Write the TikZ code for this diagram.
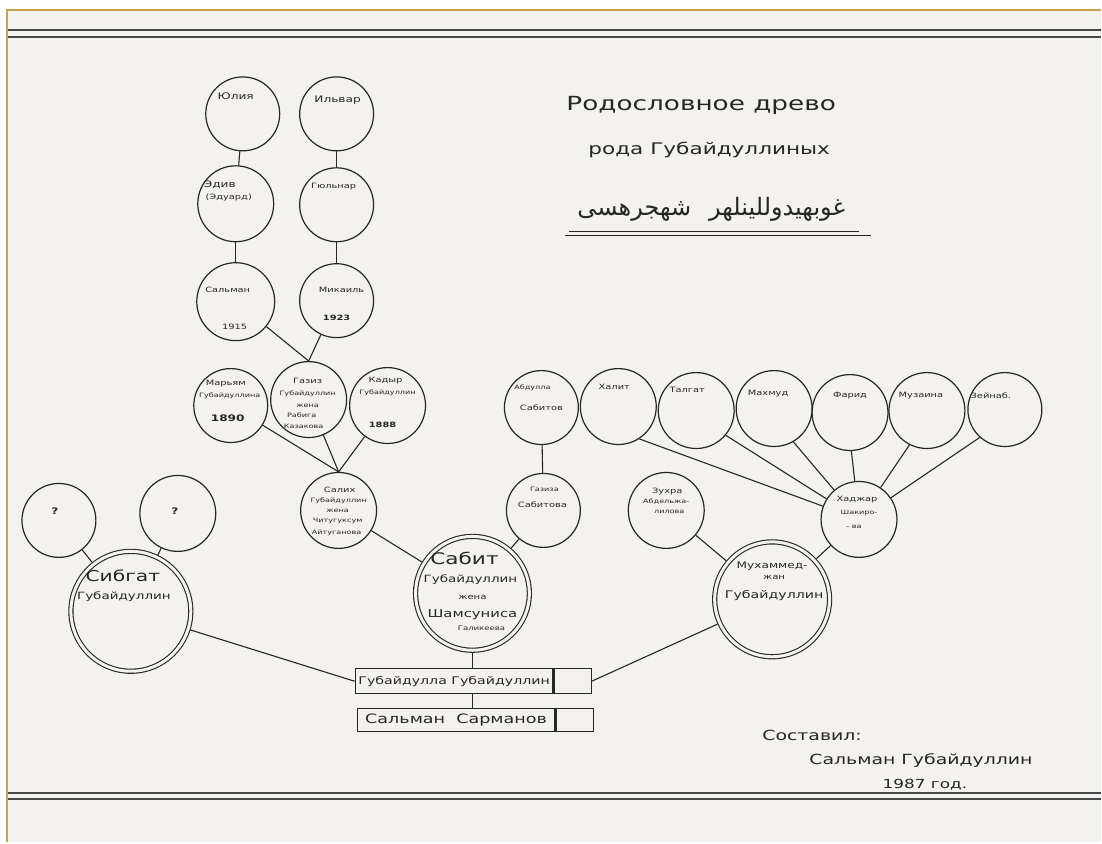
\documentclass[tikz,border=0pt]{standalone}
\usepackage{fontspec}
\setmainfont{DejaVu Sans}[FakeStretch=1.35]
\newfontfamily\arabicfont[Script=Arabic]{DejaVu Sans}
\TeXXeTstate=1
\definecolor{ink}{HTML}{262626}
\definecolor{paper}{HTML}{F4F2EE}
\definecolor{gold}{HTML}{C9A24E}
\begin{document}
\begin{tikzpicture}[x=1pt,y=-1pt,
  circ/.style={circle, draw=ink, line width=1.2pt, inner sep=0pt},
  dcirc/.style={circle, draw=ink, line width=1.1pt, double=paper, double distance=3pt, inner sep=0pt, outer sep=2.6pt},
  bx/.style={rectangle, draw=ink, line width=1.2pt, inner sep=0pt, text=ink},
  ln/.style={draw=ink, line width=1.1pt},
  rule/.style={draw=ink!85, line width=1.4pt},
  t/.style={inner sep=0pt, text=ink},
  fa/.style={t, font=\fontsize{9}{9}\selectfont},
  fb/.style={t, font=\fontsize{7.3}{7.5}\selectfont},
  fc/.style={t, font=\fontsize{6}{6.5}\selectfont},
]
% page
\fill[white] (0,0) rectangle (1102,843);
\fill[paper] (7,10) rectangle (1102,843);
\draw[gold, line width=2.5pt] (7,843) -- (7,10) -- (1102,10);
\useasboundingbox (0,0) rectangle (1102,843);
% ruled lines
\draw[rule] (8,30) -- (1102,30);
\draw[rule] (8,37) -- (1102,37);
\draw[rule] (8,794) -- (1102,794);
\draw[rule] (8,800) -- (1102,800);

% circles
\node[circ, minimum size=74] (yulia) at (243,114) {};
\node[circ, minimum size=74] (ilvar) at (337,114) {};
\node[circ, minimum size=76] (eduard) at (236,204) {};
\node[circ, minimum size=74] (gulnar) at (337,205) {};
\node[circ, minimum size=78] (salman) at (236,302) {};
\node[circ, minimum size=74] (mikail) at (337,301) {};
\node[circ, minimum size=74] (maryam) at (231,406) {};
\node[circ, minimum size=76] (gaziz) at (309,400) {};
\node[circ, minimum size=76] (kadyr) at (388,406) {};
\node[circ, minimum size=76] (salih) at (339,511) {};
\node[circ, minimum size=74] (q1) at (59,521) {};
\node[circ, minimum size=76] (q2) at (178,514) {};
\node[dcirc, minimum size=120] (sibgat) at (131,612) {};
\node[dcirc, minimum size=114] (sabit) at (473,594) {};
\node[circ, minimum size=74] (abdulla) at (542,408) {};
\node[circ, minimum size=74] (gaziza) at (544,511) {};
\node[circ, minimum size=76] (zuhra) at (667,511) {};
\node[dcirc, minimum size=115] (muhammed) at (773,600) {};
\node[circ, minimum size=76] (hadjar) at (860,520) {};
\node[circ, minimum size=76] (halit) at (619,407) {};
\node[circ, minimum size=76] (talgat) at (697,411) {};
\node[circ, minimum size=76] (mahmud) at (775,409) {};
\node[circ, minimum size=76] (farid) at (851,413) {};
\node[circ, minimum size=76] (muzaina) at (928,411) {};
\node[circ, minimum size=74] (zeinab) at (1006,410) {};

% boxes
\node[bx, minimum width=198, minimum height=25, anchor=west, font=\fontsize{10.5}{11}\selectfont] (box1) at (355,682) {Губайдулла Губайдуллин};
\node[bx, minimum width=37, minimum height=25, anchor=west] (box1x) at (box1.east) {};
\node[bx, minimum width=198, minimum height=23, anchor=west, font=\fontsize{13}{13}\selectfont] (box2) at (357,721) {Сальман\ \ Сарманов};
\node[bx, minimum width=37, minimum height=23, anchor=west] (box2x) at (box2.east) {};

% connectors
\draw[ln] (yulia) -- (eduard);
\draw[ln] (eduard) -- (salman);
\draw[ln] (ilvar) -- (gulnar);
\draw[ln] (gulnar) -- (mikail);
\draw[ln] (salman) -- (gaziz.north);
\draw[ln] (mikail) -- (gaziz.north);
\draw[ln] (maryam) -- (salih.north);
\draw[ln] (gaziz) -- (salih.north);
\draw[ln] (kadyr) -- (salih.north);
\draw[ln] (salih) -- (sabit);
\draw[ln] (q1) -- (sibgat);
\draw[ln] (q2) -- (sibgat);
\draw[ln] (sibgat) -- (box1.west);
\draw[ln] (abdulla) -- (gaziza);
\draw[ln] (gaziza) -- (sabit);
\draw[ln] (sabit.south) -- (sabit.south |- box1.north);
\draw[ln] (sabit.south |- box1.south) -- (sabit.south |- box2.north);
\draw[ln] (zuhra) -- (muhammed);
\draw[ln] (hadjar) -- (muhammed);
\draw[ln] (muhammed) -- (box1x.east);
\draw[ln] (halit.-57) -- (hadjar);
\draw[ln] (talgat.-40) -- (hadjar);
\draw[ln] (mahmud.-60) -- (hadjar);
\draw[ln] (farid.-88) -- (hadjar);
\draw[ln] (muzaina.-117) -- (hadjar);
\draw[ln] (zeinab.-132) -- (hadjar);

% circle texts
\node[fa] (yulia-t) at (236,96) {Юлия};
\node[fa] (ilvar-t) at (338,100) {Ильвар};
\node[fa] (eduard-t1) at (220,185) {Эдив};
\node[fb] (eduard-t2) at (229,198) {(Эдуард)};
\node[fb] (gulnar-t) at (334,187) {Гюльнар};
\node[fb] (salman-t1) at (228,290) {Сальман};
\node[fb] (salman-t2) at (235,327) {1915};
\node[fb] (mikail-t1) at (342,290) {Микаиль};
\node[fb] (mikail-t2) at (337,318) {\bfseries 1923};
\node[fb] (maryam-t1) at (226,384) {Марьям};
\node[fc] (maryam-t2) at (230,396) {Губайдуллина};
\node[fa] (maryam-t3) at (228,419) {\bfseries 1890};
\node[fb] (gaziz-t1) at (308,381) {Газиз};
\node[fc] (gaziz-t2) at (308,394) {Губайдуллин};
\node[fc] (gaziz-t3) at (308,406) {жена};
\node[fc] (gaziz-t4) at (302,416) {Рабига};
\node[fc] (gaziz-t5) at (304,427) {Казакова};
\node[fb] (kadyr-t1) at (386,381) {Кадыр};
\node[fc] (kadyr-t2) at (388,393) {Губайдуллин};
\node[fb] (kadyr-t3) at (383,425) {\bfseries 1888};
\node[fb] (salih-t1) at (340,490) {Салих};
\node[fc] (salih-t2) at (339,501) {Губайдуллин};
\node[fc] (salih-t3) at (338,511) {жена};
\node[fc] (salih-t4) at (338,522) {Читугуксум};
\node[fc] (salih-t5) at (337,533) {Айтуганова};
\node[fa] (q1-t) at (55,512) {\bfseries ?};
\node[fa] (q2-t) at (175,512) {\bfseries ?};
\node[t, font=\fontsize{15}{15}\selectfont] (sibgat-t1) at (123,576) {Сибгат};
\node[t, font=\fontsize{10}{10}\selectfont] (sibgat-t2) at (124,597) {Губайдуллин};
\node[t, font=\fontsize{16}{16}\selectfont] (sabit-t1) at (465,559) {Сабит};
\node[t, font=\fontsize{10}{10}\selectfont] (sabit-t2) at (471,580) {Губайдуллин};
\node[t, font=\fontsize{7.5}{7.5}\selectfont] (sabit-t3) at (473,598) {жена};
\node[t, font=\fontsize{11}{11}\selectfont] (sabit-t4) at (473,615) {Шамсуниса};
\node[t, font=\fontsize{6.3}{6.3}\selectfont] (sabit-t5) at (482,629) {Галикеева};
\node[fc] (abdulla-t1) at (533,388) {Абдулла};
\node[fb] (abdulla-t2) at (542,408) {Сабитов};
\node[fc] (gaziza-t1) at (545,490) {Газиза};
\node[fb] (gaziza-t2) at (543,505) {Сабитова};
\node[fb] (zuhra-t1) at (668,492) {Зухра};
\node[fc] (zuhra-t2) at (667,502) {Абдельжа-};
\node[fc] (zuhra-t3) at (670,512) {лилова};
\node[t, font=\fontsize{9}{9}\selectfont] (muhammed-t1) at (773,567) {Мухаммед-};
\node[t, font=\fontsize{7.5}{7.5}\selectfont] (muhammed-t2) at (775,578) {жан};
\node[t, font=\fontsize{10.5}{10.5}\selectfont] (muhammed-t3) at (775,596) {Губайдуллин};
\node[fb] (hadjar-t1) at (858,500) {Хаджар};
\node[fc] (hadjar-t2) at (860,514) {Шакиро-};
\node[fc] (hadjar-t3) at (855,527) {- ва};
\node[fb] (halit-t) at (615,387) {Халит};
\node[fb] (talgat-t) at (688,390) {Талгат};
\node[fb] (mahmud-t) at (769,394) {Махмуд};
\node[fb] (farid-t) at (851,396) {Фарид};
\node[fb] (muzaina-t) at (922,396) {Музаина};
\node[fb] (zeinab-t) at (992,396) {Зейнаб.};

% title
\node[t, font=\fontsize{19.5}{20}\selectfont] (title1) at (702,106) {Родословное древо};
\node[t, font=\fontsize{16}{16}\selectfont] (title2) at (710,150) {рода Губайдуллиных};
\node[t, font=\arabicfont\fontsize{24}{24}\selectfont] (title3) at (712,210) {\beginR غوبهيدوللينلهر\hspace{18pt}شهجرهسى\endR};
\draw[ln, line width=1.4pt] (570,232) -- (860,232);
\draw[ln, line width=1.4pt] (566,236) -- (872,236);

% signature
\node[t, font=\fontsize{14}{14}\selectfont, anchor=west] (sig1) at (763,736) {Составил:};
\node[t, font=\fontsize{14}{14}\selectfont] (sig2) at (922,761) {Сальман Губайдуллин};
\node[t, font=\fontsize{12.5}{12.5}\selectfont] (sig3) at (926,786) {1987 год.};
\end{tikzpicture}
\end{document}
